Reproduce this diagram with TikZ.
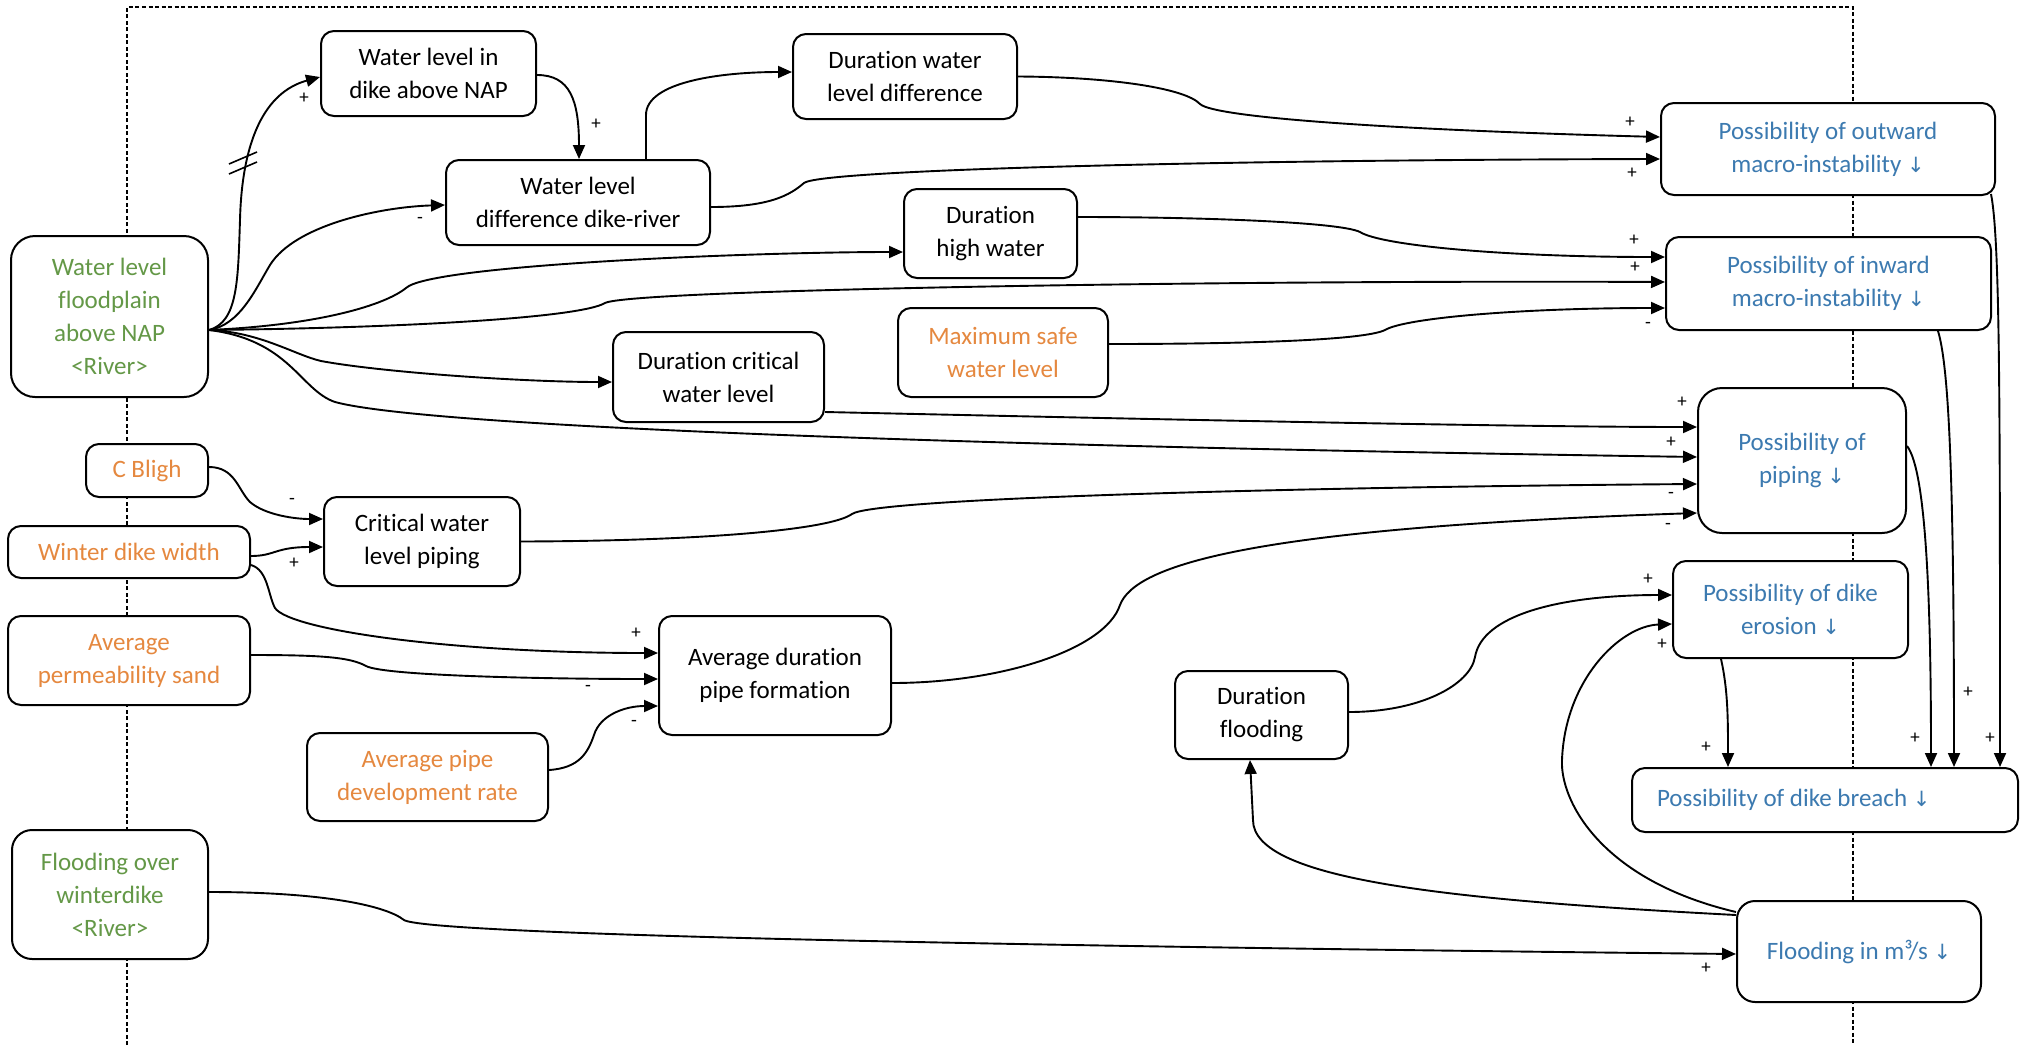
\documentclass[tikz,border=0pt]{standalone}
\usepackage{fontspec}
\setmainfont{Carlito}[Ligatures=NoCommon]
\newfontfamily\arrowfont{DejaVu Sans}
\usetikzlibrary{arrows.meta,calc}
\definecolor{cldgreen}{HTML}{649847}
\definecolor{cldorange}{HTML}{E5883F}
\definecolor{cldblue}{HTML}{3C7AB0}
\newcommand{\possdown}{{\arrowfont\fontsize{21}{33}\selectfont ↓}}
\begin{document}
\begin{tikzpicture}[x=1pt,y=-1pt,
  box/.style={draw, line width=2pt, rounded corners=13pt, fill=white, align=center,
    inner sep=0pt, font=\fontsize{25}{33}\selectfont},
  link/.style={line width=1.9pt, -{Triangle[length=14pt,width=12pt]}},
  sgn/.style={font=\fontsize{19}{19}\selectfont, inner sep=0pt},
  frameline/.style={line width=1.2pt, dash pattern=on 4pt off 2.5pt}]

\fill[white] (0,0) rectangle (2022,1045);
\useasboundingbox (0,0) rectangle (2022,1045);

% system boundary
\draw[frameline] (127,1045) -- (127,7) -- (1853,7) -- (1853,1045);

% variables
\node[box, rounded corners=24pt, minimum width=197pt, minimum height=161pt, text=cldgreen] (A) at (109.5,316.5) {Water level\\floodplain\\above NAP\\<River>};
\node[box, minimum width=215pt, minimum height=85pt] (B) at (428.5,73.5) {Water level in\\dike above NAP};
\node[box, minimum width=264pt, minimum height=85pt] (C) at (578,202.5) {Water level\\difference dike-river};
\node[box, minimum width=224pt, minimum height=85pt] (D) at (905,76.5) {Duration water\\level difference};
\node[box, minimum width=334pt, minimum height=92pt, text=cldblue] (E) at (1828,149) {Possibility of outward\\macro-instability \possdown};
\node[box, minimum width=173pt, minimum height=89pt] (F) at (990.5,233.5) {Duration\\high water};
\node[box, minimum width=325pt, minimum height=93pt, text=cldblue] (G) at (1828.5,283.5) {Possibility of inward\\macro-instability \possdown};
\node[box, minimum width=210pt, minimum height=89pt, text=cldorange] (H) at (1003,352.5) {Maximum safe\\water level};
\node[box, minimum width=211pt, minimum height=90pt] (I) at (718.5,377) {Duration critical\\water level};
\node[box, rounded corners=24pt, minimum width=208pt, minimum height=145pt, text=cldblue] (J) at (1802,460.5) {Possibility of\\piping \possdown};
\node[box, minimum width=122pt, minimum height=53pt, text=cldorange] (K) at (147,470.5) {C Bligh};
\node[box, minimum width=242pt, minimum height=52pt, text=cldorange] (L) at (129,552) {Winter dike width};
\node[box, minimum width=196pt, minimum height=89pt] (M) at (422,541.5) {Critical water\\level piping};
\node[box, minimum width=242pt, minimum height=89pt, text=cldorange] (N) at (129,660.5) {Average\\permeability sand};
\node[box, minimum width=232pt, minimum height=119pt] (O) at (775,675.5) {Average duration\\pipe formation};
\node[box, minimum width=241pt, minimum height=88pt, text=cldorange] (P) at (427.5,777) {Average pipe\\development rate};
\node[box, minimum width=235pt, minimum height=97pt, text=cldblue] (Q) at (1790.5,609.5) {Possibility of dike\\erosion \possdown};
\node[box, minimum width=173pt, minimum height=88pt] (R) at (1261.5,715) {Duration\\flooding};
\node[box, minimum width=386pt, minimum height=64pt, text=cldblue] (S) at (1825,800) {\makebox[336pt][l]{Possibility of dike breach \possdown}};
\node[box, rounded corners=20pt, minimum width=196pt, minimum height=129pt, text=cldgreen] (T) at (110,894.5) {Flooding over\\winterdike\\<River>};
\node[box, rounded corners=18pt, minimum width=244pt, minimum height=101pt, text=cldblue] (U) at (1859,951.5) {Flooding in m³/s \possdown};

% common start of the floodplain links
\coordinate (a0) at ($(A.east)+(0,13.5)$);

% links
\draw[link] (a0) .. controls (238,322) and (238,280) .. (240,220) .. controls (242,140) and (265,92) .. ($(B.west)+(0,3.5)$);
\draw[line width=1.6pt] (229,164) -- (257,152) (229,174) -- (257,162);
\draw[link] ($(B.east)+(0,1.5)$) .. controls (570,75) and (579,100) .. ($(C.north)+(1,0)$);
\draw[link] ($(C.north)+(68,0)$) -- (646,115) .. controls (646,82) and (720,72) .. ($(D.west)+(0,-4.5)$);
\draw[link] (D.east) .. controls (1110,77) and (1185,88) .. (1200,104) .. controls (1215,118) and (1400,130) .. ($(E.west)+(0,-12)$);
\draw[link] ($(C.east)+(0,4.5)$) .. controls (770,207) and (790,195) .. (804,183) .. controls (820,170) and (1200,160) .. ($(E.west)+(0,10)$);
\draw[link] (a0) .. controls (240,325) and (255,290) .. (270,265) .. controls (295,225) and (380,207) .. ($(C.west)+(0,2.5)$);
\draw[link] (a0) .. controls (320,325) and (385,305) .. (406,288) .. controls (430,265) and (750,252) .. ($(F.west)+(0,18.5)$);
\draw[link] (a0) .. controls (400,328) and (580,318) .. (605,303) .. controls (630,290) and (1200,280) .. ($(G.west)+(0,-1.5)$);
\draw[link] ($(F.east)+(0,-16.5)$) .. controls (1200,217) and (1340,222) .. (1360,232) .. controls (1380,245) and (1500,257) .. ($(G.west)+(0,-26.5)$);
\draw[link] ($(H.east)+(0,-8.5)$) .. controls (1250,344) and (1365,340) .. (1385,330) .. controls (1405,318) and (1520,308) .. ($(G.west)+(0,24.5)$);
\draw[link] (a0) .. controls (260,332) and (295,355) .. (321,361) .. controls (380,372) and (520,382) .. ($(I.west)+(0,5)$);
\draw[link] (a0) .. controls (290,340) and (300,390) .. (335,402) .. controls (420,425) and (900,445) .. ($(J.west)+(0,-3.5)$);
\draw[link] ($(I.east)+(0,35)$) .. controls (1100,418) and (1500,427) .. ($(J.west)+(0,-33.5)$);
\draw[link] (M.east) .. controls (700,541) and (830,530) .. (852,514) .. controls (875,498) and (1300,487) .. ($(J.west)+(0,23.5)$);
\draw[link] ($(O.east)+(0,7.5)$) .. controls (1000,683) and (1105,650) .. (1120,605) .. controls (1135,565) and (1250,528) .. ($(J.west)+(0,52.5)$);
\draw[link] ($(K.east)+(0,-3.5)$) .. controls (235,467) and (238,490) .. (250,502) .. controls (265,515) and (295,519) .. ($(M.west)+(0,-22.5)$);
\draw[link] ($(L.east)+(0,4)$) .. controls (275,556) and (275,547) .. ($(M.west)+(0,5.5)$);
\draw[link] ($(L.east)+(0,13)$) .. controls (268,570) and (268,595) .. (275,608) .. controls (290,630) and (450,653) .. ($(O.west)+(0,-22.5)$);
\draw[link] ($(N.east)+(0,-5.5)$) .. controls (320,655) and (350,657) .. (366,666) .. controls (385,676) and (550,679) .. ($(O.west)+(0,3.5)$);
\draw[link] ($(P.east)+(0,-7)$) .. controls (580,768) and (588,752) .. (594,735) .. controls (600,715) and (625,706) .. ($(O.west)+(0,30.5)$);
\draw[link] ($(R.east)+(0,-3)$) .. controls (1420,712) and (1470,685) .. (1475,657) .. controls (1482,615) and (1560,595) .. ($(Q.west)+(0,-14.5)$);
\draw[link] ($(U.west)+(0,-39.5)$) .. controls (1600,880) and (1560,800) .. (1562,760) .. controls (1565,680) and (1620,626) .. ($(Q.west)+(0,14.5)$);
\draw[link] ($(U.west)+(0,-36.5)$) .. controls (1450,900) and (1253,880) .. (1253,820) -- ($(R.south)+(-11.5,0)$);
\draw[link] ($(T.east)+(0,-2.5)$) .. controls (320,892) and (385,905) .. (404,920) .. controls (425,933) and (900,945) .. ($(U.west)+(0,2.5)$);
\draw[link] ($(Q.south)+(-69.5,0)$) .. controls (1728,690) and (1728,720) .. ($(S.north)+(-97,0)$);
\draw[link] ($(J.east)+(0,-14.5)$) .. controls (1926,470) and (1931,600) .. ($(S.north)+(106,0)$);
\draw[link] ($(G.south)+(109.5,0)$) .. controls (1950,370) and (1954,500) .. ($(S.north)+(129,0)$);
\draw[link] ($(E.south)+(163,-2)$) .. controls (2000,240) and (2000,400) .. ($(S.north)+(175,0)$);

% polarities
\node[sgn] (s1) at (304,98) {+};
\node[sgn] (s2) at (596,124) {+};
\node[sgn] (s3) at (420,220) {-};
\node[sgn] (s4) at (1630,122) {+};
\node[sgn] (s5) at (1632,173) {+};
\node[sgn] (s6) at (1634,240) {+};
\node[sgn] (s7) at (1635,267) {+};
\node[sgn] (s8) at (1648,325) {-};
\node[sgn] (s9) at (1682,402) {+};
\node[sgn] (s10) at (1671,442) {+};
\node[sgn] (s11) at (1671,495) {-};
\node[sgn] (s12) at (1668,526) {-};
\node[sgn] (s13) at (292,501) {-};
\node[sgn] (s14) at (294,563) {+};
\node[sgn] (s15) at (636,633) {+};
\node[sgn] (s16) at (588,688) {-};
\node[sgn] (s17) at (634,723) {-};
\node[sgn] (s18) at (1648,579) {+};
\node[sgn] (s19) at (1662,644) {+};
\node[sgn] (s20) at (1706,747) {+};
\node[sgn] (s21) at (1915,738) {+};
\node[sgn] (s22) at (1968,692) {+};
\node[sgn] (s23) at (1990,738) {+};
\node[sgn] (s24) at (1706,968) {+};
\end{tikzpicture}
\end{document}
